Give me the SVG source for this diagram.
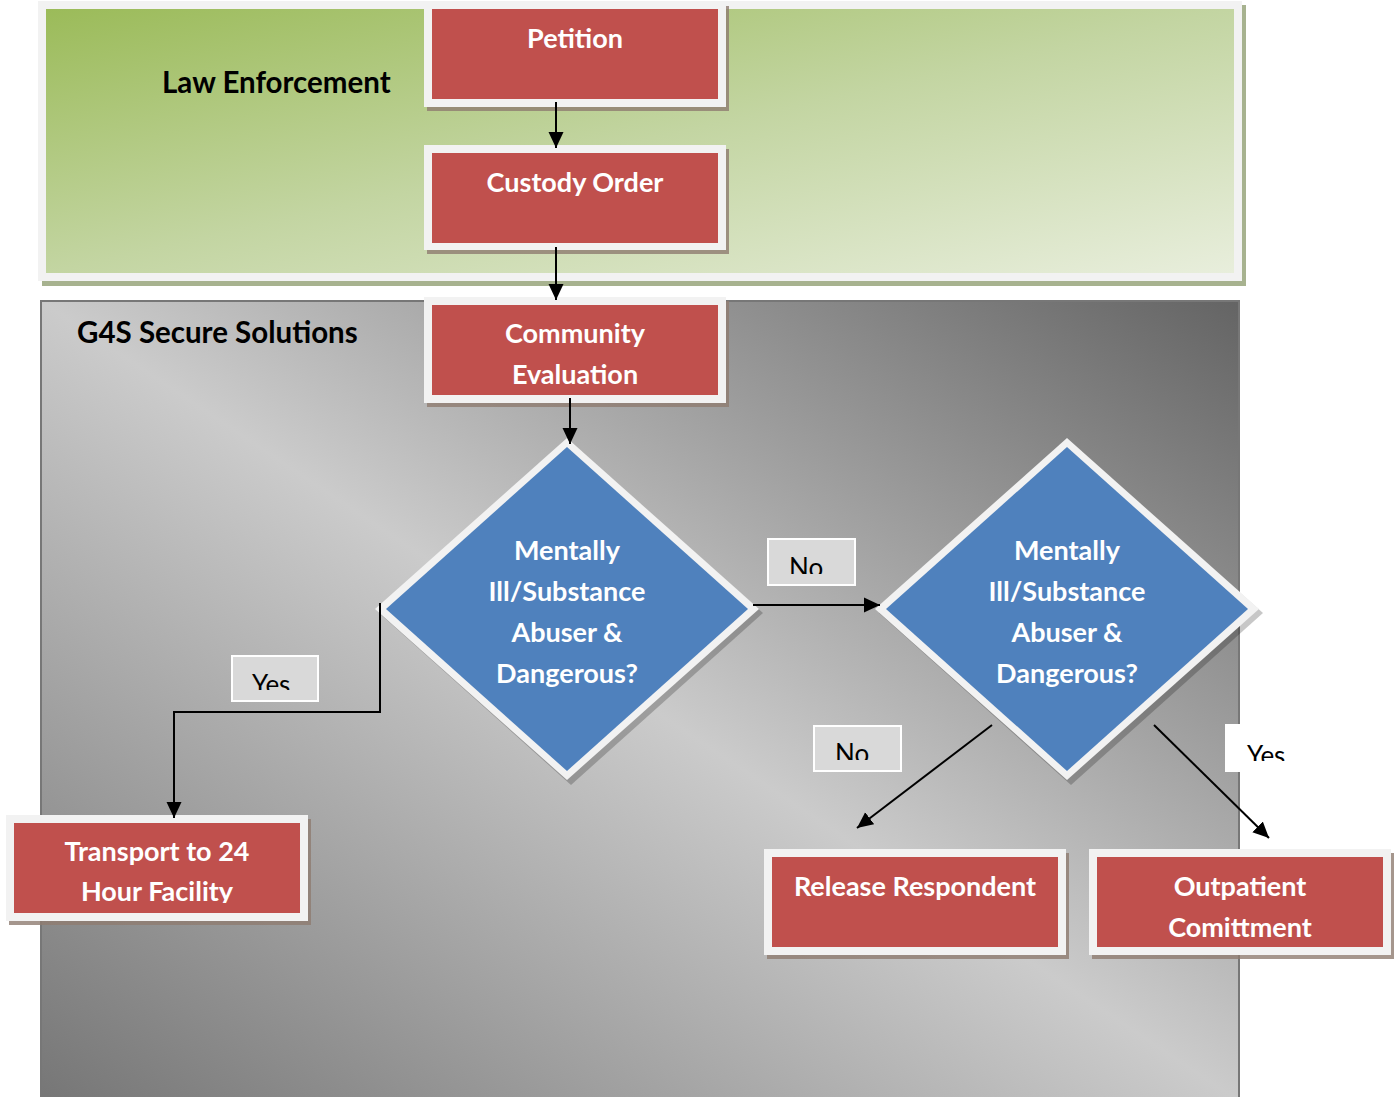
<svg xmlns="http://www.w3.org/2000/svg" width="1396" height="1097" viewBox="0 0 1396 1097">
<defs>
  <linearGradient id="gGreen" x1="0" y1="0" x2="1" y2="1">
    <stop offset="0" stop-color="#9bbb59"/>
    <stop offset="0.5" stop-color="#c3d5a2"/>
    <stop offset="1" stop-color="#e8eedc"/>
  </linearGradient>
  <linearGradient id="gGray" x1="1" y1="0" x2="0" y2="1">
    <stop offset="0" stop-color="#646464"/>
    <stop offset="0.5" stop-color="#cbcbcb"/>
    <stop offset="1" stop-color="#767676"/>
  </linearGradient>
  <marker id="arrow" markerUnits="userSpaceOnUse" markerWidth="17" markerHeight="16" refX="16" refY="8" orient="auto" viewBox="0 0 17 16">
    <path d="M0,0.5 L16,8 L0,15.5 Z" fill="#000"/>
  </marker>
  <clipPath id="clipNo1"><rect x="767" y="538" width="89" height="36"/></clipPath>
  <clipPath id="clipYes1"><rect x="231" y="655" width="88" height="35"/></clipPath>
  <clipPath id="clipNo2"><rect x="813" y="725" width="89" height="35"/></clipPath>
  <clipPath id="clipYes2"><rect x="1225" y="724" width="90" height="37"/></clipPath>
  <clipPath id="clipTransport"><rect x="14" y="823" width="286" height="80"/></clipPath>
</defs>
<style>
  .shadow { fill: #8e7c70; opacity: 0.8; }
  .frame { fill: #f2f2f2; }
  .red { fill: #c0504d; }
  .blue { fill: #4f81bd; }
  .dshadow { fill: #000; opacity: 0.22; }
  .ntext { font-family: Lato, "Liberation Sans", sans-serif; font-weight: bold; font-size: 27px; fill: #ffffff; text-anchor: middle; }
  .lane { font-family: Lato, "Liberation Sans", sans-serif; font-weight: bold; font-size: 29.5px; fill: #000000; }
  .conn { fill: none; stroke: #000; stroke-width: 2; marker-end: url(#arrow); }
  .lblbox { fill: #d9d9d9; stroke: #ffffff; stroke-width: 2; }
  .ltext { font-family: Lato, "Liberation Sans", sans-serif; font-size: 26px; fill: #000; }
</style>

<g id="lane-law-enforcement">
  <rect x="42" y="5" width="1204" height="281" fill="#a7b28f"/>
  <rect x="38" y="1" width="1204" height="280" class="frame"/>
  <rect x="46" y="9" width="1188" height="264" fill="url(#gGreen)"/>
  <text x="162" y="93" class="lane">Law Enforcement</text>
</g>

<g id="lane-g4s">
  <rect x="41" y="301" width="1198" height="800" fill="url(#gGray)" stroke="#777777" stroke-width="2"/>
  <text x="77" y="343" class="lane">G4S Secure Solutions</text>
</g>

<g id="node-petition">
  <rect x="427" y="6" width="302" height="105" class="shadow"/>
  <rect x="424" y="2" width="302" height="105" class="frame"/>
  <rect x="432" y="9" width="286" height="90" class="red"/>
  <text x="575" y="48" class="ntext">Petition</text>
</g>

<g id="node-custody-order">
  <rect x="427" y="149" width="302" height="105" class="shadow"/>
  <rect x="424" y="145" width="302" height="105" class="frame"/>
  <rect x="432" y="153" width="286" height="90" class="red"/>
  <text x="575" y="192" class="ntext">Custody Order</text>
</g>

<g id="node-community-evaluation">
  <rect x="427" y="301" width="302" height="106" class="shadow"/>
  <rect x="424" y="297" width="302" height="106" class="frame"/>
  <rect x="432" y="305" width="286" height="90" class="red"/>
  <text x="575" y="343" class="ntext">Community</text>
  <text x="575" y="384" class="ntext">Evaluation</text>
</g>

<g id="node-decision-1">
  <polygon points="571,443 763,613 571,785 379,613" class="dshadow"/>
  <polygon points="567,438 759,609 567,780 375,609" class="frame"/>
  <polygon points="567,447 748,609 567,771 386,609" class="blue"/>
  <text x="567" y="560" class="ntext">Mentally</text>
  <text x="567" y="601" class="ntext">Ill/Substance</text>
  <text x="567" y="642" class="ntext">Abuser &amp;</text>
  <text x="567" y="683" class="ntext">Dangerous?</text>
</g>

<g id="node-decision-2">
  <polygon points="1071,443 1263,613 1071,785 879,613" class="dshadow"/>
  <polygon points="1067,438 1259,609 1067,780 875,609" class="frame"/>
  <polygon points="1067,447 1248,609 1067,771 886,609" class="blue"/>
  <text x="1067" y="560" class="ntext">Mentally</text>
  <text x="1067" y="601" class="ntext">Ill/Substance</text>
  <text x="1067" y="642" class="ntext">Abuser &amp;</text>
  <text x="1067" y="683" class="ntext">Dangerous?</text>
</g>

<g id="node-transport">
  <rect x="9" y="819" width="302" height="106" class="shadow"/>
  <rect x="6" y="815" width="302" height="106" class="frame"/>
  <rect x="14" y="823" width="286" height="90" class="red"/>
  <g clip-path="url(#clipTransport)">
    <text x="157" y="861" class="ntext">Transport to 24</text>
    <text x="157" y="901" class="ntext">Hour Facility</text>
  </g>
</g>

<g id="node-release">
  <rect x="767" y="853" width="302" height="106" class="shadow"/>
  <rect x="764" y="849" width="302" height="106" class="frame"/>
  <rect x="772" y="857" width="286" height="90" class="red"/>
  <text x="915" y="896" class="ntext">Release Respondent</text>
</g>

<g id="node-outpatient">
  <rect x="1092" y="853" width="302" height="106" class="shadow"/>
  <rect x="1089" y="849" width="302" height="106" class="frame"/>
  <rect x="1097" y="857" width="286" height="90" class="red"/>
  <text x="1240" y="896" class="ntext">Outpatient</text>
  <text x="1240" y="937" class="ntext">Comittment</text>
</g>

<g id="connectors">
  <path d="M556,102 V148" class="conn"/>
  <path d="M556,247 V300" class="conn"/>
  <path d="M570,398 V444" class="conn"/>
  <path d="M753,605 H880" class="conn"/>
  <path d="M380,603 V712 H174 V818" class="conn"/>
  <path d="M992,725 L857,828" class="conn"/>
  <path d="M1154,725 L1269,838" class="conn"/>
</g>

<g id="edge-labels">
  <g id="label-no-1">
    <rect x="768" y="539" width="87" height="46" class="lblbox"/>
    <text x="789" y="577" class="ltext" clip-path="url(#clipNo1)">No</text>
  </g>
  <g id="label-yes-1">
    <rect x="232" y="656" width="86" height="45" class="lblbox"/>
    <text x="252" y="694" class="ltext" clip-path="url(#clipYes1)">Yes</text>
  </g>
  <g id="label-no-2">
    <rect x="814" y="726" width="87" height="45" class="lblbox"/>
    <text x="835" y="763" class="ltext" clip-path="url(#clipNo2)">No</text>
  </g>
  <g id="label-yes-2">
    <rect x="1225" y="724" width="75" height="48" fill="#ffffff"/>
    <text x="1247" y="765" class="ltext" clip-path="url(#clipYes2)">Yes</text>
  </g>
</g>
</svg>
